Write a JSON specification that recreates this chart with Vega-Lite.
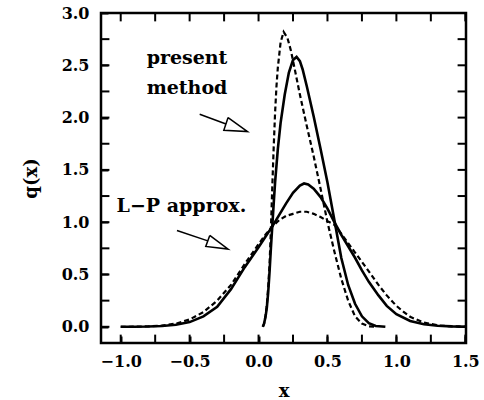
{
  "$schema": "https://vega.github.io/schema/vega-lite/v6.json",
  "width": 365,
  "height": 330,
  "autosize": "none",
  "padding": {"left": 101, "top": 13, "right": 18, "bottom": 57},
  "background": "white",
  "config": {
    "view": {"stroke": "black", "strokeWidth": 2.5},
    "font": "DejaVu Serif",
    "axis": {
      "grid": false,
      "domain": false,
      "offset": -7,
      "tickSize": 7,
      "tickWidth": 2,
      "tickColor": "black",
      "labelFont": "DejaVu Serif",
      "labelFontSize": 16,
      "labelFontWeight": "bold",
      "labelColor": "black",
      "titleFont": "DejaVu Serif",
      "titleFontSize": 18,
      "titleFontWeight": "bold",
      "titleColor": "black"
    }
  },
  "datasets": {
    "curves": [
      {"series": "wide_solid", "x": -1.0, "y": 0},
      {"series": "wide_solid", "x": -0.9, "y": 0.001},
      {"series": "wide_solid", "x": -0.8, "y": 0.003},
      {"series": "wide_solid", "x": -0.7, "y": 0.008},
      {"series": "wide_solid", "x": -0.6, "y": 0.02},
      {"series": "wide_solid", "x": -0.5, "y": 0.045},
      {"series": "wide_solid", "x": -0.4, "y": 0.1},
      {"series": "wide_solid", "x": -0.3, "y": 0.19},
      {"series": "wide_solid", "x": -0.2, "y": 0.36},
      {"series": "wide_solid", "x": -0.1, "y": 0.57},
      {"series": "wide_solid", "x": 0.0, "y": 0.76},
      {"series": "wide_solid", "x": 0.05, "y": 0.86},
      {"series": "wide_solid", "x": 0.1, "y": 0.96},
      {"series": "wide_solid", "x": 0.15, "y": 1.07},
      {"series": "wide_solid", "x": 0.2, "y": 1.18},
      {"series": "wide_solid", "x": 0.25, "y": 1.28},
      {"series": "wide_solid", "x": 0.3, "y": 1.35},
      {"series": "wide_solid", "x": 0.33, "y": 1.37},
      {"series": "wide_solid", "x": 0.36, "y": 1.36},
      {"series": "wide_solid", "x": 0.4, "y": 1.32},
      {"series": "wide_solid", "x": 0.45, "y": 1.24},
      {"series": "wide_solid", "x": 0.5, "y": 1.13},
      {"series": "wide_solid", "x": 0.55, "y": 1.0},
      {"series": "wide_solid", "x": 0.6, "y": 0.88},
      {"series": "wide_solid", "x": 0.65, "y": 0.77},
      {"series": "wide_solid", "x": 0.7, "y": 0.66},
      {"series": "wide_solid", "x": 0.75, "y": 0.54},
      {"series": "wide_solid", "x": 0.8, "y": 0.43},
      {"series": "wide_solid", "x": 0.87, "y": 0.3},
      {"series": "wide_solid", "x": 0.93, "y": 0.2},
      {"series": "wide_solid", "x": 1.0, "y": 0.12},
      {"series": "wide_solid", "x": 1.1, "y": 0.055},
      {"series": "wide_solid", "x": 1.2, "y": 0.025},
      {"series": "wide_solid", "x": 1.3, "y": 0.01},
      {"series": "wide_solid", "x": 1.4, "y": 0.004},
      {"series": "wide_solid", "x": 1.5, "y": 0.001},
      {"series": "wide_dashed", "x": -1.0, "y": 0},
      {"series": "wide_dashed", "x": -0.9, "y": 0.001},
      {"series": "wide_dashed", "x": -0.8, "y": 0.004},
      {"series": "wide_dashed", "x": -0.7, "y": 0.012},
      {"series": "wide_dashed", "x": -0.6, "y": 0.03},
      {"series": "wide_dashed", "x": -0.5, "y": 0.07},
      {"series": "wide_dashed", "x": -0.4, "y": 0.14},
      {"series": "wide_dashed", "x": -0.3, "y": 0.25},
      {"series": "wide_dashed", "x": -0.2, "y": 0.4},
      {"series": "wide_dashed", "x": -0.1, "y": 0.6},
      {"series": "wide_dashed", "x": 0.0, "y": 0.79},
      {"series": "wide_dashed", "x": 0.05, "y": 0.88},
      {"series": "wide_dashed", "x": 0.1, "y": 0.96},
      {"series": "wide_dashed", "x": 0.15, "y": 1.02},
      {"series": "wide_dashed", "x": 0.2, "y": 1.06},
      {"series": "wide_dashed", "x": 0.25, "y": 1.08},
      {"series": "wide_dashed", "x": 0.3, "y": 1.1},
      {"series": "wide_dashed", "x": 0.35, "y": 1.1},
      {"series": "wide_dashed", "x": 0.4, "y": 1.08},
      {"series": "wide_dashed", "x": 0.45, "y": 1.05},
      {"series": "wide_dashed", "x": 0.5, "y": 1.01},
      {"series": "wide_dashed", "x": 0.55, "y": 0.975},
      {"series": "wide_dashed", "x": 0.6, "y": 0.89},
      {"series": "wide_dashed", "x": 0.65, "y": 0.8},
      {"series": "wide_dashed", "x": 0.7, "y": 0.71},
      {"series": "wide_dashed", "x": 0.75, "y": 0.62},
      {"series": "wide_dashed", "x": 0.8, "y": 0.53},
      {"series": "wide_dashed", "x": 0.87, "y": 0.4},
      {"series": "wide_dashed", "x": 0.93, "y": 0.3},
      {"series": "wide_dashed", "x": 1.0, "y": 0.2},
      {"series": "wide_dashed", "x": 1.05, "y": 0.145},
      {"series": "wide_dashed", "x": 1.1, "y": 0.095},
      {"series": "wide_dashed", "x": 1.2, "y": 0.04},
      {"series": "wide_dashed", "x": 1.3, "y": 0.014},
      {"series": "wide_dashed", "x": 1.4, "y": 0.004},
      {"series": "wide_dashed", "x": 1.5, "y": 0.001},
      {"series": "narrow_solid", "x": 0.031, "y": 0},
      {"series": "narrow_solid", "x": 0.04, "y": 0.03},
      {"series": "narrow_solid", "x": 0.05, "y": 0.09},
      {"series": "narrow_solid", "x": 0.06, "y": 0.18},
      {"series": "narrow_solid", "x": 0.07, "y": 0.33},
      {"series": "narrow_solid", "x": 0.08, "y": 0.53},
      {"series": "narrow_solid", "x": 0.09, "y": 0.76},
      {"series": "narrow_solid", "x": 0.1, "y": 0.97},
      {"series": "narrow_solid", "x": 0.11, "y": 1.18},
      {"series": "narrow_solid", "x": 0.12, "y": 1.38},
      {"series": "narrow_solid", "x": 0.14, "y": 1.7},
      {"series": "narrow_solid", "x": 0.16, "y": 1.95},
      {"series": "narrow_solid", "x": 0.19, "y": 2.22},
      {"series": "narrow_solid", "x": 0.22, "y": 2.43},
      {"series": "narrow_solid", "x": 0.25, "y": 2.55},
      {"series": "narrow_solid", "x": 0.276, "y": 2.58},
      {"series": "narrow_solid", "x": 0.3, "y": 2.54},
      {"series": "narrow_solid", "x": 0.32, "y": 2.46},
      {"series": "narrow_solid", "x": 0.35, "y": 2.3},
      {"series": "narrow_solid", "x": 0.4, "y": 2.01},
      {"series": "narrow_solid", "x": 0.45, "y": 1.7},
      {"series": "narrow_solid", "x": 0.5, "y": 1.38},
      {"series": "narrow_solid", "x": 0.55, "y": 1.02},
      {"series": "narrow_solid", "x": 0.6, "y": 0.66},
      {"series": "narrow_solid", "x": 0.65, "y": 0.4},
      {"series": "narrow_solid", "x": 0.7, "y": 0.22},
      {"series": "narrow_solid", "x": 0.75, "y": 0.1},
      {"series": "narrow_solid", "x": 0.8, "y": 0.035},
      {"series": "narrow_solid", "x": 0.85, "y": 0.008},
      {"series": "narrow_solid", "x": 0.92, "y": 0.0},
      {"series": "narrow_dashed", "x": 0.031, "y": 0},
      {"series": "narrow_dashed", "x": 0.04, "y": 0.03},
      {"series": "narrow_dashed", "x": 0.05, "y": 0.1},
      {"series": "narrow_dashed", "x": 0.06, "y": 0.21},
      {"series": "narrow_dashed", "x": 0.07, "y": 0.38},
      {"series": "narrow_dashed", "x": 0.08, "y": 0.6},
      {"series": "narrow_dashed", "x": 0.09, "y": 0.95},
      {"series": "narrow_dashed", "x": 0.1, "y": 1.35},
      {"series": "narrow_dashed", "x": 0.11, "y": 1.72},
      {"series": "narrow_dashed", "x": 0.12, "y": 2.05},
      {"series": "narrow_dashed", "x": 0.13, "y": 2.3},
      {"series": "narrow_dashed", "x": 0.14, "y": 2.48},
      {"series": "narrow_dashed", "x": 0.16, "y": 2.72},
      {"series": "narrow_dashed", "x": 0.182, "y": 2.82},
      {"series": "narrow_dashed", "x": 0.21, "y": 2.76},
      {"series": "narrow_dashed", "x": 0.235, "y": 2.64},
      {"series": "narrow_dashed", "x": 0.26, "y": 2.48},
      {"series": "narrow_dashed", "x": 0.3, "y": 2.22},
      {"series": "narrow_dashed", "x": 0.35, "y": 1.92},
      {"series": "narrow_dashed", "x": 0.4, "y": 1.63},
      {"series": "narrow_dashed", "x": 0.45, "y": 1.32},
      {"series": "narrow_dashed", "x": 0.5, "y": 1.0},
      {"series": "narrow_dashed", "x": 0.55, "y": 0.72},
      {"series": "narrow_dashed", "x": 0.6, "y": 0.46},
      {"series": "narrow_dashed", "x": 0.65, "y": 0.25},
      {"series": "narrow_dashed", "x": 0.7, "y": 0.1},
      {"series": "narrow_dashed", "x": 0.75, "y": 0.03},
      {"series": "narrow_dashed", "x": 0.8, "y": 0.005},
      {"series": "narrow_dashed", "x": 0.85, "y": 0}
    ],
    "arrows": [
      {"shape": "pm_line", "i": 0, "x": -0.427, "y": 2.032},
      {"shape": "pm_line", "i": 1, "x": -0.236, "y": 1.939},
      {"shape": "pm_head", "i": 0, "x": -0.221, "y": 2.0},
      {"shape": "pm_head", "i": 1, "x": -0.08, "y": 1.866},
      {"shape": "pm_head", "i": 2, "x": -0.252, "y": 1.878},
      {"shape": "pm_head", "i": 3, "x": -0.221, "y": 2.0},
      {"shape": "lp_line", "i": 0, "x": -0.592, "y": 0.921},
      {"shape": "lp_line", "i": 1, "x": -0.368, "y": 0.821},
      {"shape": "lp_head", "i": 0, "x": -0.354, "y": 0.873},
      {"shape": "lp_head", "i": 1, "x": -0.221, "y": 0.743},
      {"shape": "lp_head", "i": 2, "x": -0.383, "y": 0.768},
      {"shape": "lp_head", "i": 3, "x": -0.354, "y": 0.873}
    ],
    "notes": [
      {"label": "present", "x": -0.812, "y": 2.51},
      {"label": "method", "x": -0.812, "y": 2.224},
      {"label": "L−P approx.", "x": -1.03, "y": 1.094}
    ],
    "xticks": [
      {"v": -1.0}, {"v": -0.75}, {"v": -0.5}, {"v": -0.25}, {"v": 0.0}, {"v": 0.25},
      {"v": 0.5}, {"v": 0.75}, {"v": 1.0}, {"v": 1.25}, {"v": 1.5}
    ],
    "yticks": [
      {"v": 0.0}, {"v": 0.25}, {"v": 0.5}, {"v": 0.75}, {"v": 1.0}, {"v": 1.25}, {"v": 1.5},
      {"v": 1.75}, {"v": 2.0}, {"v": 2.25}, {"v": 2.5}, {"v": 2.75}, {"v": 3.0}
    ]
  },
  "layer": [
    {
      "data": {"name": "curves"},
      "transform": [{"filter": "indexof(datum.series, 'solid') >= 0"}],
      "mark": {"type": "line", "color": "black", "strokeWidth": 2.6, "clip": true},
      "encoding": {
        "x": {
          "field": "x", "type": "quantitative",
          "scale": {"domain": [-1.143, 1.505], "nice": false, "zero": false},
          "axis": {
            "orient": "bottom", "title": "x",
            "values": [-1, -0.75, -0.5, -0.25, 0, 0.25, 0.5, 0.75, 1, 1.25, 1.5],
            "labelExpr": "abs(datum.value * 2 - round(datum.value * 2)) < 0.01 ? format(datum.value, '.1f') : ''",
            "labelPadding": 10,
            "labelFlush": false,
            "titlePadding": 13
          }
        },
        "y": {
          "field": "y", "type": "quantitative",
          "scale": {"domain": [-0.155, 3.0], "nice": false, "zero": false},
          "axis": {
            "orient": "left", "title": "q(x)",
            "values": [0, 0.25, 0.5, 0.75, 1, 1.25, 1.5, 1.75, 2, 2.25, 2.5, 2.75, 3],
            "labelExpr": "abs(datum.value * 2 - round(datum.value * 2)) < 0.01 ? format(datum.value, '.1f') : ''",
            "labelPadding": 12,
            "labelFlush": false,
            "titlePadding": 21
          }
        },
        "detail": {"field": "series"}
      }
    },
    {
      "data": {"name": "curves"},
      "transform": [{"filter": "indexof(datum.series, 'dashed') >= 0"}],
      "mark": {"type": "line", "color": "black", "strokeWidth": 2.2, "strokeDash": [5, 3], "clip": true},
      "encoding": {
        "x": {"field": "x", "type": "quantitative"},
        "y": {"field": "y", "type": "quantitative"},
        "detail": {"field": "series"}
      }
    },
    {
      "data": {"name": "xticks"},
      "mark": {"type": "rule", "color": "black", "strokeWidth": 2},
      "encoding": {
        "x": {"field": "v", "type": "quantitative"},
        "y": {"datum": -0.155},
        "y2": {"datum": -0.075}
      }
    },
    {
      "data": {"name": "xticks"},
      "mark": {"type": "rule", "color": "black", "strokeWidth": 2},
      "encoding": {
        "x": {"field": "v", "type": "quantitative"},
        "y": {"datum": 3.0},
        "y2": {"datum": 2.92}
      }
    },
    {
      "data": {"name": "yticks"},
      "mark": {"type": "rule", "color": "black", "strokeWidth": 2},
      "encoding": {
        "y": {"field": "v", "type": "quantitative"},
        "x": {"datum": -1.143},
        "x2": {"datum": -1.082}
      }
    },
    {
      "data": {"name": "yticks"},
      "mark": {"type": "rule", "color": "black", "strokeWidth": 2},
      "encoding": {
        "y": {"field": "v", "type": "quantitative"},
        "x": {"datum": 1.505},
        "x2": {"datum": 1.444}
      }
    },
    {
      "data": {"name": "arrows"},
      "mark": {"type": "line", "color": "black", "strokeWidth": 1.5},
      "encoding": {
        "x": {"field": "x", "type": "quantitative"},
        "y": {"field": "y", "type": "quantitative"},
        "detail": {"field": "shape"},
        "order": {"field": "i"}
      }
    },
    {
      "data": {"name": "notes"},
      "mark": {"type": "text", "align": "left", "baseline": "alphabetic", "font": "DejaVu Serif", "fontSize": 19, "fontWeight": "bold", "color": "black"},
      "encoding": {
        "x": {"field": "x", "type": "quantitative"},
        "y": {"field": "y", "type": "quantitative"},
        "text": {"field": "label"}
      }
    }
  ]
}
